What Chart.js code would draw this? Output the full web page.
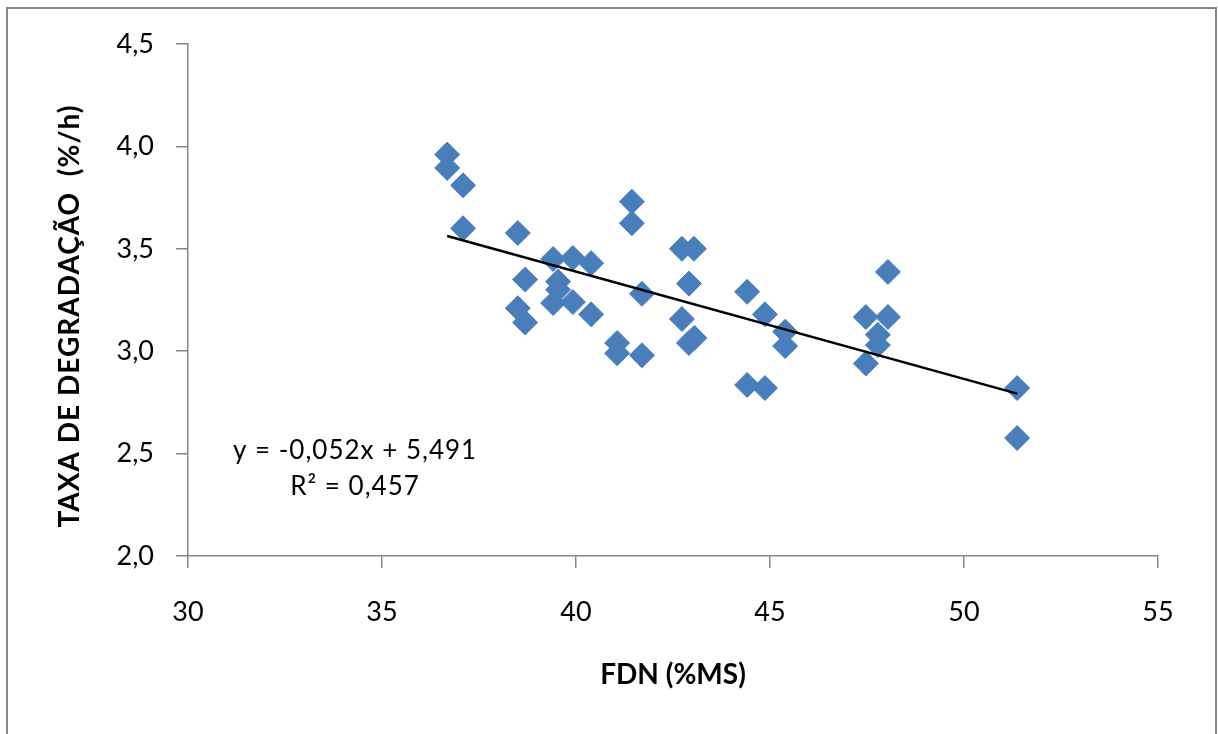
<!DOCTYPE html>
<html>
<head>
<meta charset="utf-8">
<script src="https://cdn.jsdelivr.net/npm/chart.js@4.4.1/dist/chart.umd.min.js"></script>
<style>
  html, body { margin: 0; padding: 0; background: #fff; }
  #wrap { width: 1218px; height: 734px; position: relative; }
</style>
</head>
<body>
<div id="wrap"><canvas id="scatterChart" width="1218" height="734"></canvas></div>
<script>
// FDN (%MS) vs taxa de degradação (%/h)
const fdnValues = [
  36.68, 36.68, 37.09, 37.09, 38.50, 39.41, 39.92, 40.39, 38.69, 39.54,
  39.54, 39.41, 39.92, 38.50, 38.69, 40.39, 41.06, 41.06, 41.70, 41.44,
  41.44, 41.70, 42.73, 43.04, 42.91, 42.73, 43.05, 42.91, 44.41, 44.87,
  45.39, 45.39, 44.41, 44.87, 47.47, 48.04, 48.04, 47.78, 47.78, 47.47,
  51.37, 51.37
];
const taxaValues = [
  3.96, 3.895, 3.81, 3.60, 3.577, 3.45, 3.455, 3.43, 3.35, 3.34,
  3.30, 3.235, 3.24, 3.21, 3.14, 3.18, 3.04, 2.99, 2.98, 3.73,
  3.625, 3.28, 3.50, 3.50, 3.33, 3.157, 3.065, 3.04, 3.29, 3.18,
  3.095, 3.025, 2.835, 2.82, 3.167, 3.167, 3.387, 3.08, 3.03, 2.94,
  2.82, 2.576
];
const xTicks = [30, 35, 40, 45, 50, 55];
const yTicks = [2.0, 2.5, 3.0, 3.5, 4.0, 4.5];
const equationLines = ['y = -0,052x + 5,491', 'R\u00b2 = 0,457'];
const xTitle = 'FDN (%MS)';
const yTitle = 'TAXA DE DEGRADA\u00c7\u00c3O  (%/h)';

const FONT = 'Lato, "Open Sans", sans-serif';
const AXIS_GREY = '#868686';
const MARKER_BLUE = '#4a7ebb';

// linear trendline (least squares, like the spreadsheet trendline)
function fitLine(xs, ys) {
  const n = xs.length;
  const mx = xs.reduce((a, b) => a + b, 0) / n;
  const my = ys.reduce((a, b) => a + b, 0) / n;
  let sxy = 0;
  let sxx = 0;
  for (let i = 0; i < n; i++) {
    sxy += (xs[i] - mx) * (ys[i] - my);
    sxx += (xs[i] - mx) * (xs[i] - mx);
  }
  const slope = sxy / sxx;
  return { slope, intercept: my - slope * mx };
}

const fit = fitLine(fdnValues, taxaValues);
const xMin = Math.min(...fdnValues);
const xMax = Math.max(...fdnValues);
const trendPoints = [xMin, xMax].map((x) => ({ x, y: fit.intercept + fit.slope * x }));
const points = fdnValues.map((x, i) => ({ x, y: taxaValues[i] }));

const decoration = {
  id: 'decoration',
  afterDraw(chart) {
    const { ctx } = chart;
    ctx.save();
    // outer frame
    ctx.strokeStyle = AXIS_GREY;
    ctx.lineWidth = 2;
    ctx.strokeRect(7, 8, 1209, 760);

    // equation label
    ctx.fillStyle = '#000';
    ctx.font = '26px ' + FONT;
    ctx.letterSpacing = '1px';
    ctx.textAlign = 'center';
    ctx.textBaseline = 'middle';
    ctx.fillText(equationLines[0], 355, 451);
    ctx.fillText(equationLines[1], 355, 487);

    // y title
    ctx.font = 'bold 28px ' + FONT;
    ctx.letterSpacing = '1px';
    ctx.translate(70, 316);
    ctx.rotate(-Math.PI / 2);
    ctx.fillText(yTitle, 0, 0);
    ctx.restore();
  },
};

new Chart(document.getElementById('scatterChart'), {
  type: 'scatter',
  data: {
    datasets: [
      {
        label: 'Taxa',
        data: points,
        pointStyle: 'rectRot',
        pointRadius: 12.5,
        pointHoverRadius: 12.5,
        backgroundColor: MARKER_BLUE,
        borderColor: MARKER_BLUE,
        borderWidth: 1,
        order: 2,
      },
      {
        type: 'line',
        label: 'Linear',
        data: trendPoints,
        borderColor: '#000',
        borderWidth: 2.5,
        pointRadius: 0,
        fill: false,
        order: 1,
      },
    ],
  },
  options: {
    responsive: false,
    animation: false,
    layout: { padding: { left: 0, top: 44, right: 60, bottom: 0 } },
    plugins: {
      legend: { display: false },
      tooltip: { enabled: false },
    },
    scales: {
      x: {
        type: 'linear',
        min: 30,
        max: 55,
        afterFit: (scale) => { scale.height = 178; },
        afterBuildTicks: (scale) => { scale.ticks = xTicks.map((v) => ({ value: v })); },
        grid: {
          drawOnChartArea: false,
          drawTicks: true,
          tickLength: 12,
          color: AXIS_GREY,
          lineWidth: 1.5,
        },
        border: { color: AXIS_GREY, width: 1.5 },
        ticks: {
          color: '#000',
          padding: 28,
          font: { family: FONT, size: 27 },
          callback: (v) => String(v),
        },
        title: {
          display: true,
          text: xTitle,
          color: '#000',
          font: { family: FONT, size: 28, weight: 'bold' },
          padding: { top: 0, bottom: 42 },
        },
      },
      y: {
        type: 'linear',
        min: 2,
        max: 4.5,
        afterFit: (scale) => { scale.width = 188; },
        afterBuildTicks: (scale) => { scale.ticks = yTicks.map((v) => ({ value: v })); },
        grid: {
          drawOnChartArea: false,
          drawTicks: true,
          tickLength: 12,
          color: AXIS_GREY,
          lineWidth: 1.5,
        },
        border: { color: AXIS_GREY, width: 1.5 },
        ticks: {
          color: '#000',
          padding: 22,
          font: { family: FONT, size: 27 },
          callback: (v) => v.toFixed(1).replace('.', ','),
        },
      },
    },
  },
  plugins: [decoration],
});
</script>
</body>
</html>
